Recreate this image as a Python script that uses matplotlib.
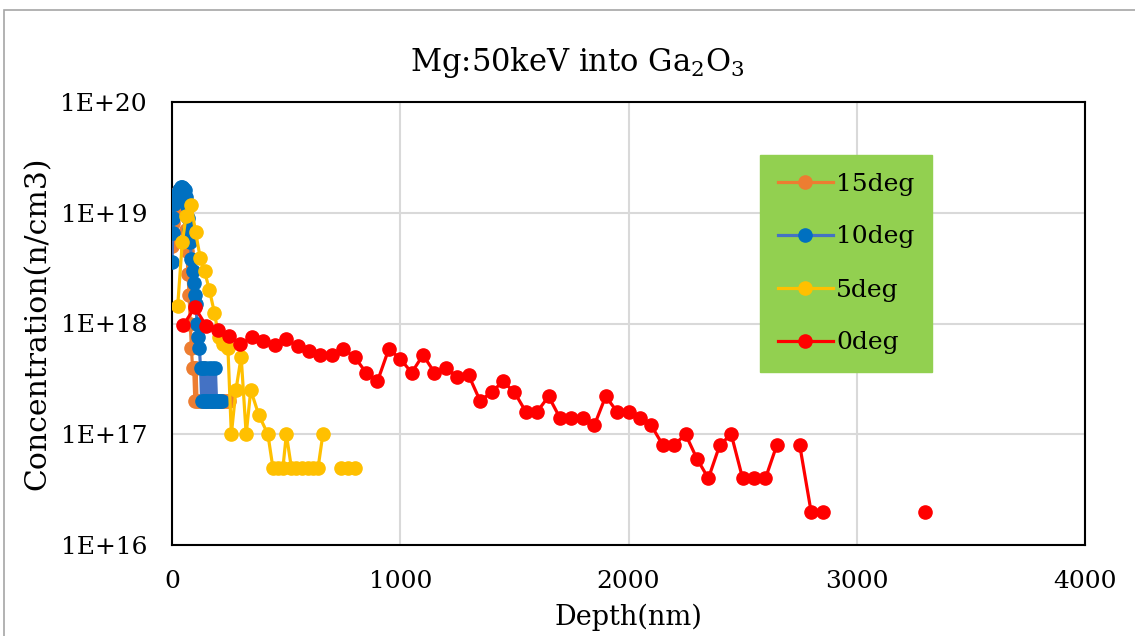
import numpy as np
import matplotlib
matplotlib.use("Agg")
import matplotlib.pyplot as plt
from matplotlib.ticker import FixedLocator, FuncFormatter, NullLocator
from matplotlib.lines import Line2D
from matplotlib.patches import Rectangle

plt.rcParams['font.family'] = 'DejaVu Serif'
plt.rcParams['mathtext.fontset'] = 'dejavuserif'

nan = np.nan

# 15deg profile (depth nm, concentration /cm3)
d15 = [0, 5, 10, 15, 20, 25, 30, 35, 40, 45, 50, 55, 60, 65, 70, 75, 80, 85, 90, 95,
       100, 105, 110, 120, 130, 140, 150, 160, 170, 180, 190, 200, 210, 220, 230, 240, 250]
c15 = [5.0e18, 8.0e18, 1.1e19, 1.3e19, 1.45e19, 1.55e19, 1.6e19, 1.62e19, 1.58e19, 1.5e19,
       1.3e19, 1.0e19, 7.0e18, 4.5e18, 2.8e18, 1.8e18, 1.0e18, 6.0e17, 4.0e17, 4.0e17,
       2.0e17, 4.0e17, 2.0e17, 2.0e17, 2.0e17, 4.0e17, 2.0e17, 2.0e17, 2.0e17, 2.0e17,
       2.0e17, 2.0e17, 2.0e17, 2.0e17, 2.0e17, 2.0e17, 2.0e17]

# 10deg profile
d10 = [0, 3, 6, 10, 15, 20, 25, 30, 35, 40, 45, 50, 55, 60, 65, 70, 75, 80, 85, 90,
       95, 100, 105, 110, 115, 120, 125, 130, 135, 140, 145, 150, 155, 160, 165, 170,
       175, 180, 185, 190, 195, 200, 210, 220]
c10 = [3.6e18, 6.5e18, 9.0e18, 1.2e19, 1.4e19, 1.3e19, 1.5e19, 1.6e19, 1.65e19, 1.7e19,
       1.72e19, 1.68e19, 1.6e19, 1.4e19, 1.15e19, 9.0e18, 7.0e18, 5.5e18, 3.8e18, 3.0e18,
       2.3e18, 1.8e18, 1.5e18, 1.0e18, 7.5e17, 6.0e17, 4.0e17, 2.0e17, 4.0e17, 2.0e17,
       4.0e17, 2.0e17, 2.0e17, 4.0e17, 2.0e17, 2.0e17, 4.0e17, 2.0e17, 2.0e17, 4.0e17,
       2.0e17, 2.0e17, 2.0e17, 2.0e17]

# 5deg profile
d5 = [25, 45, 62, 84, 103, 124, 143, 164, 186, 205, 225, 245, 260, 280, 303, 325, 345,
      380, 420, 442, 464, 486, 501, 523, 545, 570, 595, 618, 640, 661, 700, 742, 770, 800]
c5 = [1.45e18, 5.4e18, 9.4e18, 1.18e19, 6.7e18, 3.9e18, 2.95e18, 2.0e18, 1.25e18, 7.5e17,
      6.5e17, 6.0e17, 1.0e17, 2.5e17, 5.0e17, 1.0e17, 2.5e17, 1.5e17, 1.0e17, 5.0e16,
      5.0e16, 5.0e16, 1.0e17, 5.0e16, 5.0e16, 5.0e16, 5.0e16, 5.0e16, 5.0e16, 1.0e17,
      nan, 5.0e16, 5.0e16, 5.0e16]

# 0deg profile
d0 = [50, 100, 150, 200, 250, 300, 350, 400, 450, 500, 550, 600, 650, 700, 750, 800,
      850, 900, 950, 1000, 1050, 1100, 1150, 1200, 1250, 1300, 1350, 1400, 1450, 1500,
      1550, 1600, 1650, 1700, 1750, 1800, 1850, 1900, 1950, 2000, 2050, 2100, 2150, 2200,
      2250, 2300, 2350, 2400, 2450, 2500, 2550, 2600, 2650, 2700, 2750, 2800, 2850, 2900,
      3300]
c0 = [9.7e17, 1.4e18, 9.5e17, 8.7e17, 7.7e17, 6.5e17, 7.5e17, 7.0e17, 6.4e17, 7.2e17,
      6.2e17, 5.7e17, 5.2e17, 5.2e17, 5.85e17, 5.0e17, 3.6e17, 3.0e17, 5.9e17, 4.8e17,
      3.6e17, 5.2e17, 3.6e17, 4.0e17, 3.3e17, 3.4e17, 2.0e17, 2.4e17, 3.0e17, 2.4e17,
      1.6e17, 1.6e17, 2.2e17, 1.4e17, 1.4e17, 1.4e17, 1.2e17, 2.2e17, 1.6e17, 1.6e17,
      1.4e17, 1.2e17, 8.0e16, 8.0e16, 1.0e17, 6.0e16, 4.0e16, 8.0e16, 1.0e17, 4.0e16,
      4.0e16, 4.0e16, 8.0e16, nan, 8.0e16, 2.0e16, 2.0e16, nan, 2.0e16]

labels = ['15deg', '10deg', '5deg', '0deg']
xticks = [0, 1000, 2000, 3000, 4000]
yticks = [1e16, 1e17, 1e18, 1e19, 1e20]

fig = plt.figure(figsize=(11.35, 6.36), dpi=100)
ax = fig.add_axes([172/1135, 1-545/636, 913/1135, 443/636])

ms = 9.5
lw = 2.3
ax.plot(d15, c15, '-o', color='#ED7D31', mfc='#ED7D31', mec='#ED7D31', ms=ms, lw=lw, zorder=3)
ax.plot(d10, c10, '-o', color='#4472C4', mfc='#0070C0', mec='#0070C0', ms=ms, lw=lw, zorder=4)
ax.plot(d5, c5, '-o', color='#FFC000', mfc='#FFC000', mec='#FFC000', ms=ms, lw=lw, zorder=5)
ax.plot(d0, c0, '-o', color='#FF0000', mfc='#FF0000', mec='#FF0000', ms=ms, lw=lw, zorder=6)

ax.set_yscale('log')
ax.set_xlim(0, 4000)
ax.set_ylim(1e16, 1e20)
ax.xaxis.set_major_locator(FixedLocator(xticks))
ax.yaxis.set_major_locator(FixedLocator(yticks))
ax.yaxis.set_minor_locator(NullLocator())
ax.yaxis.set_major_formatter(FuncFormatter(lambda v, p: "1E+%d" % round(np.log10(v))))
ax.tick_params(axis='y', length=0, labelsize=18, pad=18)
ax.tick_params(axis='x', length=0, labelsize=18, pad=18)
ax.grid(True, color='#D9D9D9', lw=1.5, zorder=0)
for s in ax.spines.values():
    s.set_color('black')
    s.set_linewidth(1.5)

fig.text(577/1135, 1-62/636, 'Mg:50keV into Ga$_2$O$_3$', fontsize=22, ha='center', va='center')
ax.set_xlabel('Depth(nm)', fontsize=19.5, labelpad=8)
ax.set_ylabel('Concentration(n/cm3)', fontsize=21.5, labelpad=6)

handles = [
    Line2D([], [], color='#ED7D31', marker='o', mfc='#ED7D31', mec='#ED7D31', ms=ms, lw=lw),
    Line2D([], [], color='#4472C4', marker='o', mfc='#0070C0', mec='#0070C0', ms=ms, lw=lw),
    Line2D([], [], color='#FFC000', marker='o', mfc='#FFC000', mec='#FFC000', ms=ms, lw=lw),
    Line2D([], [], color='#FF0000', marker='o', mfc='#FF0000', mec='#FF0000', ms=ms, lw=lw),
]
leg = fig.legend(handles, labels, loc='upper left', bbox_to_anchor=(760/1135, 1-155/636),
                 fontsize=18, frameon=True, fancybox=False, framealpha=1,
                 facecolor='#92D050', edgecolor='#92D050', labelspacing=1.2,
                 handlelength=2.2, handletextpad=0.15, borderpad=0.7, borderaxespad=0)

# outer chart border
fig.patches.append(Rectangle((4/1135, -0.1), 1.2, (636-10)/636 + 0.1, transform=fig.transFigure,
                             fill=False, edgecolor='#A6A6A6', lw=1.2))

fig.savefig('out.png', dpi=100)
